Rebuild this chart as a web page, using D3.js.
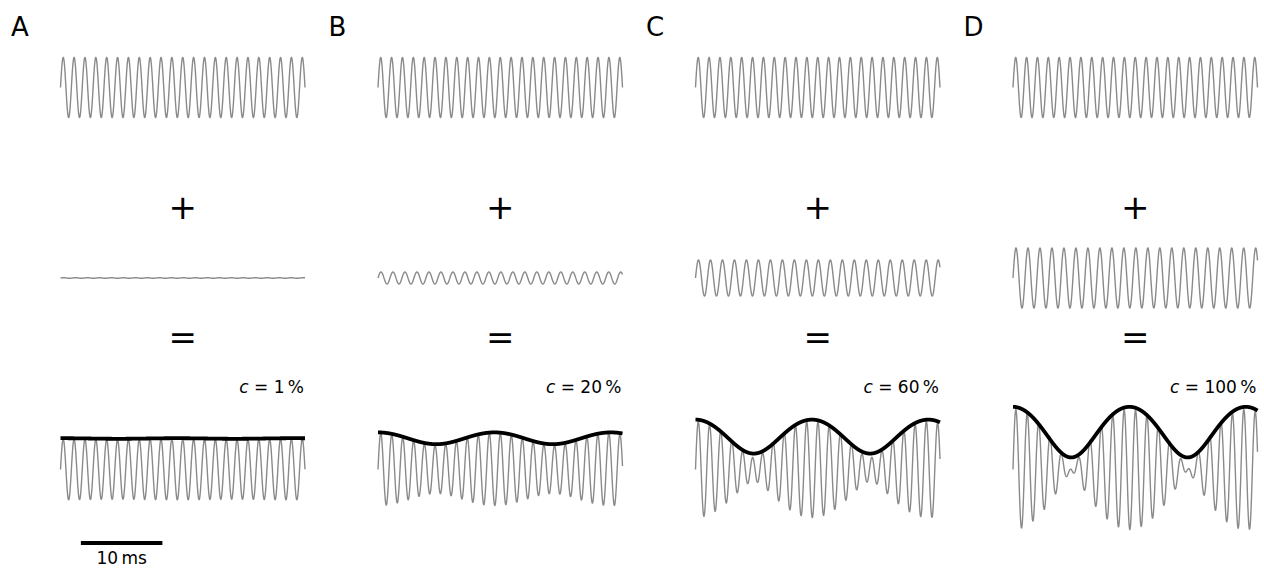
<!DOCTYPE html>
<html>
<head>
<meta charset="utf-8">
<script src="https://cdn.jsdelivr.net/npm/d3@7"></script>
<style>
  html, body { margin: 0; padding: 0; background: #fff; }
  svg { display: block; font-family: "DejaVu Sans", "Liberation Sans", Arial, sans-serif; }
</style>
</head>
<body>
<svg id="chart" width="1264" height="568"></svg>
<script>
// Panels: a fixed tone plus a second tone at contrast c gives a beating sum
const panelLabels = ["A", "B", "C", "D"];
const contrastPct = [1, 20, 60, 100];
const toneHz = [750, 680];          // first (top) and second (middle) tone
const durationMs = 30;
const envelopeCutoffHz = 110;       // low-pass applied to the Hilbert envelope
const envelopeFilterOrder = 4;
const scaleBarMs = [2.5, 12.5];     // 10 ms bar under panel A
const scaleBarLabel = "10\u2009ms";

const svg = d3.select("#chart");

const panelX0 = 60.5, panelStep = 317.5, panelW = 244.5;
const amp = 30;                      // px per unit of tone amplitude
const rowCenter = { top: 87.5, mid: 278, bottom: 469.5 };
const grey = "#8a8a8a";

const dtMs = 0.01;
const times = d3.range(0, durationMs + dtMs / 2, dtMs);

// Envelope of sin(w1 t) + c sin(w2 t) is |1 + c e^{i(w1-w2)t}|, periodic at the beat rate.
// Expand it in beat harmonics and weight each by a Butterworth magnitude response.
function smoothEnvelope(c, beatHz) {
  const N = 1440, K = 6;
  const coef = new Array(K + 1).fill(0);
  for (let n = 0; n < N; n++) {
    const th = 2 * Math.PI * n / N;
    const e = Math.sqrt(1 + c * c + 2 * c * Math.cos(th));
    for (let k = 0; k <= K; k++) coef[k] += (k === 0 ? 1 : 2) * e * Math.cos(k * th) / N;
  }
  const gain = coef.map((_, k) => 1 / Math.sqrt(1 + Math.pow(k * beatHz / envelopeCutoffHz, 2 * envelopeFilterOrder)));
  return t => {
    const th = 2 * Math.PI * beatHz * t / 1000;
    let s = 0;
    for (let k = 0; k <= K; k++) s += gain[k] * coef[k] * Math.cos(k * th);
    return s;
  };
}

panelLabels.forEach((lab, i) => {
  const c = contrastPct[i] / 100;
  const x0 = panelX0 + i * panelStep;
  const x = d3.scaleLinear().domain([0, durationMs]).range([x0, x0 + panelW]);
  const yRow = ctr => d3.scaleLinear().domain([-1, 1]).range([ctr + amp, ctr - amp]);
  const yTop = yRow(rowCenter.top), yMid = yRow(rowCenter.mid), yBot = yRow(rowCenter.bottom);

  const tone1 = t => Math.sin(2 * Math.PI * toneHz[0] * t / 1000);
  const tone2 = t => c * Math.sin(2 * Math.PI * toneHz[1] * t / 1000);
  const env = smoothEnvelope(c, toneHz[0] - toneHz[1]);

  const g = svg.append("g").attr("class", "panel");

  g.append("text")
    .attr("x", 11 + i * panelStep).attr("y", 36)
    .attr("font-size", 26).attr("fill", "#000")
    .text(lab);

  const line = yS => fn => d3.line().x(t => x(t)).y(t => yS(fn(t)))(times);

  g.append("path").attr("d", line(yTop)(tone1))
    .attr("fill", "none").attr("stroke", grey).attr("stroke-width", 1.4);
  g.append("path").attr("d", line(yMid)(tone2))
    .attr("fill", "none").attr("stroke", grey).attr("stroke-width", 1.4);
  g.append("path").attr("d", line(yBot)(t => tone1(t) + tone2(t)))
    .attr("fill", "none").attr("stroke", grey).attr("stroke-width", 1.4);

  // envelope drawn a hair above the peaks
  g.append("path").attr("d", d3.line().x(t => x(t)).y(t => yBot(env(t)) - 1)(times))
    .attr("fill", "none").attr("stroke", "#000").attr("stroke-width", 3.8);

  const cx = x(durationMs / 2);
  g.append("text").attr("x", cx).attr("y", 219)
    .attr("text-anchor", "middle").attr("font-size", 34).text("+");
  g.append("text").attr("x", cx).attr("y", 349)
    .attr("text-anchor", "middle").attr("font-size", 34).text("=");

  const lbl = g.append("text").attr("x", x(durationMs) - 1).attr("y", 393)
    .attr("text-anchor", "end").attr("font-size", 17);
  lbl.append("tspan").attr("font-style", "italic").text("c");
  lbl.append("tspan").text(" = " + contrastPct[i] + "\u2009%");

  if (i === 0) {
    g.append("line")
      .attr("x1", x(scaleBarMs[0])).attr("x2", x(scaleBarMs[1]))
      .attr("y1", 543).attr("y2", 543)
      .attr("stroke", "#000").attr("stroke-width", 4);
    g.append("text").attr("x", x((scaleBarMs[0] + scaleBarMs[1]) / 2)).attr("y", 564)
      .attr("text-anchor", "middle").attr("font-size", 17).text(scaleBarLabel);
  }
});
</script>
</body>
</html>
